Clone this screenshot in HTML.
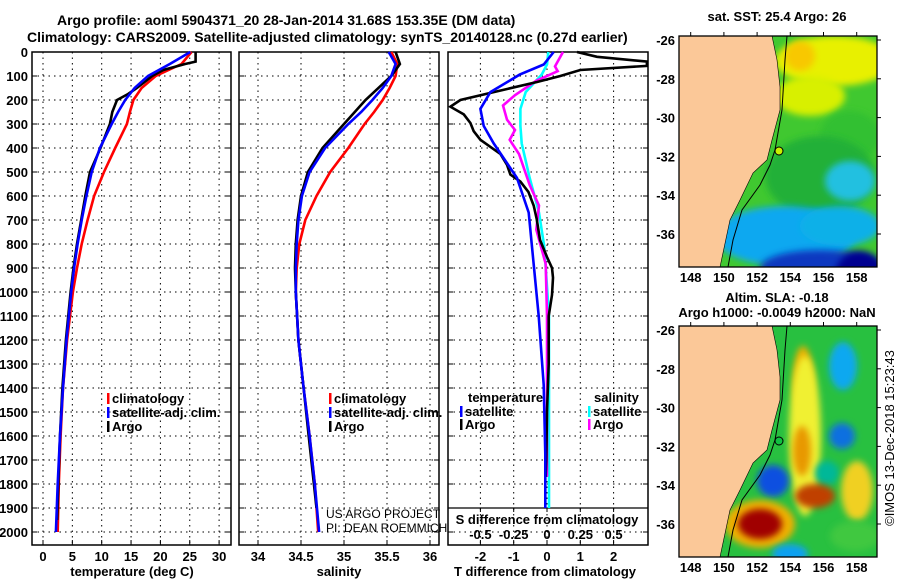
<!DOCTYPE html>
<html><head><meta charset="utf-8"><style>
body{margin:0;background:#fff}
svg{display:block;font-family:"Liberation Sans",sans-serif}
.b{font-weight:bold;font-size:13px}
</style></head><body>
<svg id="c" width="900" height="580" viewBox="0 0 900 580">
<defs><filter id="bl" x="-50%" y="-50%" width="200%" height="200%"><feGaussianBlur stdDeviation="3.5"/></filter>
<clipPath id="m1"><rect x="679" y="36" width="198" height="231"/></clipPath>
<clipPath id="m2"><rect x="679" y="326" width="198" height="231"/></clipPath></defs>
<text class="b" x="57" y="25" style="font-size:14px">Argo profile: aoml 5904371_20 28-Jan-2014 31.68S 153.35E (DM data)</text>
<text class="b" x="27" y="42" style="font-size:14px">Climatology: CARS2009. Satellite-adjusted climatology: synTS_20140128.nc (0.27d earlier)</text>
<g id="g"></g>
</svg>
<script>
// ---- data ----
const depthClim=[0,50,100,150,200,250,300,400,500,600,700,800,900,1000,1200,1400,1600,1800,2000];
const tempClim=[25.3,23.6,19.2,16.8,15.4,14.8,14.3,12.3,10.4,8.7,7.6,6.6,5.8,5.1,4.1,3.4,3.0,2.7,2.5];
const tempSat=[25.1,21.6,17.9,15.6,14.0,12.8,11.7,9.7,8.3,7.4,6.6,5.9,5.3,4.8,4.0,3.4,2.9,2.5,2.2];
const depthArgoT=[0,40,50,75,100,150,175,200,250,300,400,500,600,700,800,900,1000,1200,1400,1600,1800,1950];
const tempArgo=[26.0,26.0,24.2,20.5,18.6,16.0,14.5,12.6,11.8,11.4,9.8,8.0,7.2,6.5,5.8,5.2,4.7,3.9,3.3,2.9,2.6,2.4];
const salClim=[35.55,35.62,35.6,35.53,35.45,35.35,35.24,35.05,34.84,34.68,34.55,34.48,34.45,34.44,34.47,34.53,34.6,34.66,34.7];
const salSat=[35.52,35.6,35.55,35.45,35.33,35.2,35.05,34.78,34.6,34.51,34.47,34.45,34.44,34.44,34.47,34.53,34.6,34.66,34.71];
const depthArgoS=[0,50,100,200,300,400,500,600,700,800,900,1000,1200,1400,1600,1800,1900];
const salArgo=[35.6,35.65,35.55,35.25,35.0,34.75,34.58,34.5,34.46,34.44,34.43,34.44,34.47,34.53,34.59,34.65,34.68];
const depthTdA=[0,20,40,58,75,100,125,167,200,228,260,296,330,366,425,470,511,540,583,640,696,783,854,900,941,1012,1100,1300,1500,1700,1770];
const tdArgo=[0.9,1.5,3,3,1.0,0.4,-0.3,-1.6,-2.6,-2.9,-2.5,-2.3,-2.2,-2.0,-1.4,-1.2,-1.1,-0.8,-0.56,-0.4,-0.31,-0.21,0,0.15,0.18,0.15,0.05,0.05,0,-0.02,-0.04];
const depthD=[0,52,94,167,237,308,381,525,669,812,1100,1387,1675,1900];
const tdSat=[0.2,-0.1,-0.82,-1.7,-2.0,-1.9,-1.6,-0.9,-0.55,-0.45,-0.25,-0.1,-0.05,-0.05];
const sdSat=[0.01,0.0,-0.04,-0.16,-0.2,-0.2,-0.19,-0.13,-0.06,-0.02,0.015,0.015,0.015,0.015];
const depthSdA=[0,60,80,120,180,223,282,325,366,425,554,640,740,883,1100,1400,1770];
const sdArgo=[0.12,0.06,0.08,-0.08,-0.24,-0.33,-0.3,-0.24,-0.28,-0.21,-0.13,-0.06,-0.08,-0.01,0,0,0];
const depthTicks=[0,100,200,300,400,500,600,700,800,900,1000,1100,1200,1300,1400,1500,1600,1700,1800,1900,2000];
const tTicks=[0,5,10,15,20,25,30];
const sTicks=["34","34.5","35","35.5","36"];
const tdTicks=[-2,-1,0,1,2];
const sdTicks=["-0.5","-0.25","0","0.25","0.5"];
const lonTicks=[148,150,152,154,156,158];
const latTicks=[-26,-28,-30,-32,-34,-36];
// ---- scales ----
const yD=d=>52+d*0.24;
const xT=t=>43+t*5.87;
const xS=s=>258+(s-34)*86;
const xTd=t=>547+t*33.3;
const xSd=s=>547+s*133.2;
const NS='http://www.w3.org/2000/svg';
const G=document.getElementById('g');
function mk(tag,at,txt){const e=document.createElementNS(NS,tag);for(const k in at)e.setAttribute(k,at[k]);if(txt!==undefined)e.textContent=txt;G.appendChild(e);return e;}
function line(xs,ds,sc,col,name){let d='';xs.forEach((v,i)=>{d+=(i?'L':'M')+sc(v).toFixed(1)+','+yD(ds[i]).toFixed(1);});
const p=mk('path',{d:d,fill:'none',stroke:col,'stroke-width':2.6});

}
// panels
const panels=[[32,231,'temperature-panel'],[239,439,'salinity-panel'],[448,648,'difference-panel']];
panels.forEach(([l,r,n])=>{
 const fr=mk('rect',{x:l,y:52,width:r-l,height:493,fill:'none',stroke:'#000','stroke-width':1.5});
 
 
 depthTicks.forEach(d=>{if(d>0){const g=mk('line',{x1:l,x2:r,y1:yD(d),y2:yD(d),stroke:'#000','stroke-dasharray':'1.5 4','stroke-width':1});
 
 }
 mk('line',{x1:l,x2:l+5,y1:yD(d),y2:yD(d),stroke:'#000'});mk('line',{x1:r-5,x2:r,y1:yD(d),y2:yD(d),stroke:'#000'});});
});
depthTicks.forEach(d=>{const t=mk('text',{x:28,y:yD(d)+5,'text-anchor':'end',class:'b'},String(d));

});
function vgrid(ticks,sc,lab,y0){ticks.forEach(v=>{const x=sc(+v);
 const g=mk('line',{x1:x,x2:x,y1:y0,y2:545,stroke:'#000','stroke-dasharray':'1.5 4'});
 
 
 mk('line',{x1:x,x2:x,y1:540,y2:545,stroke:'#000'});
 const t=mk('text',{x:x,y:561,'text-anchor':'middle',class:'b'},String(v));
 
 });
 const a=mk('text',{x:0,y:576,'text-anchor':'middle',class:'b'},lab);return a;}
let a=vgrid(tTicks,xT,'temperature (deg C)',52);a.setAttribute('x',132);


a=vgrid(sTicks,xS,'salinity',52);a.setAttribute('x',339);


a=vgrid(tdTicks,xTd,'T difference from climatology',52);a.setAttribute('x',545);


// inner S axis
mk('line',{x1:448,x2:648,y1:508,y2:508,stroke:'#000','stroke-width':1.3});
sdTicks.forEach(v=>{const x=xSd(+v);mk('line',{x1:x,x2:x,y1:508,y2:512,stroke:'#000'});
 const t=mk('text',{x:x,y:539,'text-anchor':'middle',class:'b'},v);
 
 });
const st=mk('text',{x:547,y:524,'text-anchor':'middle',class:'b'},'S difference from climatology');


// series
line(tempClim,depthClim,xT,'#f00','temp-climatology-line');
line(tempArgo,depthArgoT,xT,'#000','temp-argo-line');
line(tempSat,depthClim,xT,'#00f','temp-satellite-line');
line(salClim,depthClim,xS,'#f00','sal-climatology-line');
line(salArgo,depthArgoS,xS,'#000','sal-argo-line');
line(salSat,depthClim,xS,'#00f','sal-satellite-line');
line(sdSat,depthD,xSd,'#0ff','sdiff-satellite-line');
line(sdArgo,depthSdA,xSd,'#f0f','sdiff-argo-line');
line(tdArgo,depthTdA,xTd,'#000','tdiff-argo-line');
line(tdSat,depthD,xTd,'#00f','tdiff-satellite-line');
// legends
function leg(x,y,col,txt,name){mk('rect',{x:x,y:y-10,width:2.5,height:11,fill:col});
 const t=mk('text',{x:x+5,y:y,class:'b'},txt);
 
 }
leg(107,403,'#f00','climatology','legend-climatology');leg(107,417,'#00f','satellite-adj. clim.','legend-satellite');leg(107,431,'#000','Argo','legend-argo');
leg(329,403,'#f00','climatology','legend-climatology-2');leg(329,417,'#00f','satellite-adj. clim.','legend-satellite-2');leg(329,431,'#000','Argo','legend-argo-2');
mk('text',{x:468,y:402,class:'b'},'temperature');mk('text',{x:594,y:402,class:'b'},'salinity');
leg(460,416,'#00f','satellite','legend-t-satellite');leg(460,429,'#000','Argo','legend-t-argo');
leg(588,416,'#0ff','satellite','legend-s-satellite');leg(588,429,'#f0f','Argo','legend-s-argo');
mk('text',{x:326,y:518,'font-size':12},'US ARGO PROJECT');mk('text',{x:326,y:532,'font-size':12},'PI: DEAN ROEMMICH');
// maps
const xL=l=>690.7+(l-148)*16.6;
function map(y0,blobs,bg,title,name){
 const gg=document.createElementNS(NS,'g');gg.setAttribute('clip-path','url(#m'+(y0<100?1:2)+')');G.appendChild(gg);
 
 
 const add=(tag,at)=>{const e=document.createElementNS(NS,tag);for(const k in at)e.setAttribute(k,at[k]);gg.appendChild(e);return e;};
 add('rect',{x:679,y:y0,width:198,height:231,fill:bg});
 blobs.forEach(b=>add('ellipse',{cx:b[0],cy:y0+b[1],rx:b[2],ry:b[3],fill:b[4],filter:'url(#bl)'}));
 const o=y0-36;const c=[[772,36],[777,60],[780,87],[780,110],[772,140],[767,160],[753,173],[740,200],[730,220],[720,267]];
 add('path',{d:'M679,'+(y0)+' '+c.map(p=>'L'+p[0]+','+(p[1]+o)).join(' ')+' L679,'+(267+o)+'Z',fill:'#fbc898',stroke:'#000','stroke-width':0.6});
 const k=[[787,36],[785,60],[782,110],[775,150],[770,165],[760,185],[742,210],[733,240],[728,267]];
 add('path',{d:k.map((p,i)=>(i?'L':'M')+p[0]+','+(p[1]+o)).join(' '),fill:'none',stroke:'#000','stroke-width':1});
 add('circle',{cx:779,cy:151+o,r:4,fill:y0<100?'#c8f000':'#10c040',stroke:'#000'});
 mk('rect',{x:679,y:y0,width:198,height:231,fill:'none',stroke:'#000','stroke-width':1.3});
 lonTicks.forEach(l=>{mk('line',{x1:xL(l),x2:xL(l),y1:y0-4,y2:y0,stroke:'#000'});
  const t=mk('text',{x:xL(l),y:y0+246,'text-anchor':'middle',class:'b'},String(l));
  
  });
 latTicks.forEach((l,i)=>{const y=y0+4+(-26-l)*19.4;mk('line',{x1:877,x2:881,y1:y,y2:y,stroke:'#000'});
  const t=mk('text',{x:675,y:y+5,'text-anchor':'end',class:'b'},String(l));
  
  });
}
map(36,[[835,25,60,25,'#e8f000'],[800,20,15,15,'#f8c800'],[810,60,35,20,'#d8f000'],[850,100,30,25,'#30c030'],[820,140,55,40,'#20b038'],[850,145,25,20,'#20c0e0'],[785,200,70,30,'#10a8f0'],[840,190,40,20,'#10b0e8'],[820,232,60,18,'#0838c0'],[860,240,25,25,'#000090']],'#40c830','sat-sst-map');
map(326,[[803,55,10,35,'#f0b000'],[805,110,16,80,'#f0f030'],[802,125,9,25,'#e89800'],[843,40,14,24,'#10a8f0'],[842,110,13,13,'#1070e0'],[827,147,12,12,'#00b898'],[773,155,16,16,'#1050e0'],[815,170,20,12,'#c04000'],[760,198,35,24,'#f0b000'],[760,198,22,15,'#a00000'],[857,165,16,30,'#f0d020'],[855,210,25,15,'#40c840'],[790,228,18,10,'#10a0f0']],'#28c040','sla-map');
const t1=mk('text',{x:777,y:21,'text-anchor':'middle',class:'b'},'sat. SST: 25.4 Argo: 26');


const t2=mk('text',{x:777,y:302,'text-anchor':'middle',class:'b'},'Altim. SLA: -0.18');


const t3=mk('text',{x:777,y:317,'text-anchor':'middle',class:'b'},'Argo h1000: -0.0049 h2000: NaN');


const cp=mk('text',{x:0,y:0,transform:'translate(894,438) rotate(-90)','text-anchor':'middle','font-size':13},'©IMOS 13-Dec-2018 15:23:43');


</script>
</body></html>
